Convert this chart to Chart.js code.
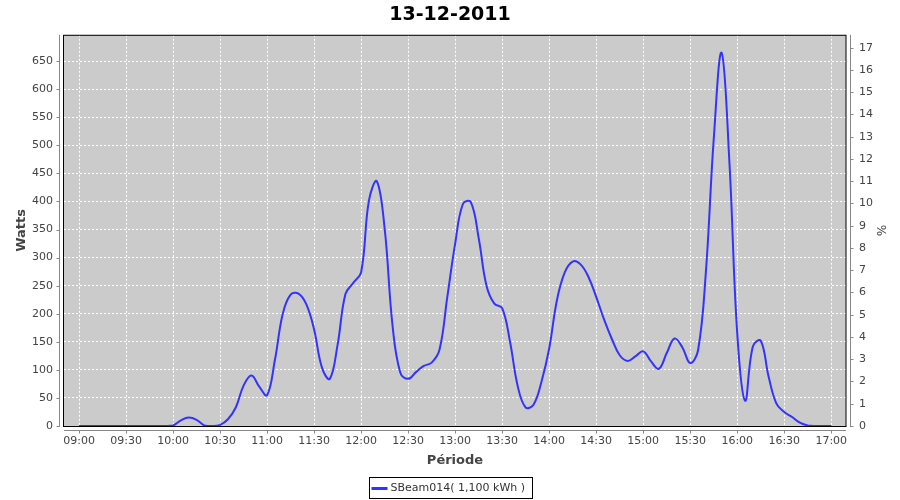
<!DOCTYPE html>
<html>
<head>
<meta charset="utf-8">
<script src="https://cdn.jsdelivr.net/npm/chart.js@4.4.0/dist/chart.umd.min.js"></script>
<style>
  html, body { margin: 0; padding: 0; background: #fff; }
</style>
</head>
<body>
<canvas id="chart" width="900" height="500"></canvas>
<script>
// sample times (5 min steps) and measured power in watts
const times = [
  '09:00','09:05','09:10','09:15','09:20','09:25','09:30','09:35','09:40','09:45','09:50','09:55',
  '10:00','10:05','10:10','10:15','10:20','10:25','10:30','10:35','10:40','10:45','10:50','10:55',
  '11:00','11:05','11:10','11:15','11:20','11:25','11:30','11:35','11:40','11:45','11:50','11:55',
  '12:00','12:05','12:10','12:15','12:20','12:25','12:30','12:35','12:40','12:45','12:50','12:55',
  '13:00','13:05','13:10','13:15','13:20','13:25','13:30','13:35','13:40','13:45','13:50','13:55',
  '14:00','14:05','14:10','14:15','14:20','14:25','14:30','14:35','14:40','14:45','14:50','14:55',
  '15:00','15:05','15:10','15:15','15:20','15:25','15:30','15:35','15:40','15:45','15:50','15:55',
  '16:00','16:05','16:10','16:15','16:20','16:25','16:30','16:35','16:40','16:45','16:50','16:55',
  '17:00'
];
const watts = [
  0, 0, 0, 0, 0, 0, 0, 0, 0, 0, 0, 0,
  1, 10, 15, 11, 1, 0, 2, 12, 33, 72, 90, 70,
  55, 118, 200, 234, 236, 217, 172, 104, 84, 145, 235, 255,
  274, 402, 436, 352, 180, 95, 84, 96, 107, 113, 136, 230,
  325, 396, 399, 335, 250, 218, 210, 150, 70, 33, 38, 78,
  138, 225, 274, 293, 288, 266, 230, 190, 155, 126, 116, 124,
  133, 115, 102, 130, 156, 140, 112, 135, 275, 511, 665, 470,
  165, 45, 142, 152, 88, 40, 25, 16, 6, 1, 0, 0,
  0
];
const xTicks = ['09:00','09:30','10:00','10:30','11:00','11:30','12:00','12:30',
  '13:00','13:30','14:00','14:30','15:00','15:30','16:00','16:30','17:00'];

const seriesLabel = 'SBeam014( 1,100 kWh )';
const lineColor = '#3333ff';

// minutes after 09:00
function toMin(t) {
    const [h, m] = t.split(':').map(Number);
    return (h - 9) * 60 + m;
}

const points = times.map((t, i) => ({ x: toMin(t), y: watts[i] }));

Chart.defaults.font.family = "'DejaVu Sans', sans-serif";
Chart.defaults.font.size = 11;
Chart.defaults.color = '#444';

// gray plot, black frame, offset axis lines and the boxed legend
const plotFrame = {
    id: 'plotFrame',
    beforeDraw(chart) {
        const { ctx, chartArea: a } = chart;
        ctx.save();
        ctx.fillStyle = '#cbcbcb';
        ctx.fillRect(a.left, a.top, a.right - a.left, a.bottom - a.top);
        ctx.restore();
    },
    afterDatasetsDraw(chart) {
        const { ctx, chartArea: a } = chart;
        ctx.save();
        ctx.strokeStyle = '#000';
        ctx.lineWidth = 1;
        ctx.strokeRect(a.left - 0.5, a.top + 0.5, a.right - a.left + 0.5, a.bottom - a.top);
        ctx.restore();
    },
    afterDraw(chart) {
        const { ctx, chartArea: a, scales } = chart;
        ctx.save();
        ctx.strokeStyle = '#888';
        ctx.lineWidth = 1;
        ctx.beginPath();
        // left axis
        const lx = Math.round(a.left) - 4.5;
        ctx.moveTo(lx, a.top); ctx.lineTo(lx, a.bottom + 1);
        scales.y.ticks.forEach(t => {
            const py = Math.round(scales.y.getPixelForValue(t.value)) + 0.5;
            ctx.moveTo(lx - 3, py); ctx.lineTo(lx, py);
        });
        // right axis
        const rx = Math.round(a.right) + 4.5;
        ctx.moveTo(rx, a.top); ctx.lineTo(rx, a.bottom + 1);
        scales.y2.ticks.forEach(t => {
            const py = Math.round(scales.y2.getPixelForValue(t.value)) + 0.5;
            ctx.moveTo(rx, py); ctx.lineTo(rx + 3, py);
        });
        // bottom axis
        const by = Math.round(a.bottom) + 4.5;
        ctx.moveTo(a.left, by); ctx.lineTo(a.right, by);
        scales.x.ticks.forEach(t => {
            const px = Math.round(scales.x.getPixelForValue(t.value)) + 0.5;
            ctx.moveTo(px, by); ctx.lineTo(px, by + 3);
        });
        ctx.stroke();

        // legend
        const ds = chart.data.datasets[0];
        ctx.font = "11px 'DejaVu Sans', sans-serif";
        const tw = ctx.measureText(ds.label).width;
        const w = Math.round(tw + 28);
        const x0 = Math.round(chart.width / 2 - w / 2) + 0.5;
        const y0 = 477.5, h = 21;
        ctx.fillStyle = '#fff';
        ctx.fillRect(x0, y0, w, h);
        ctx.strokeStyle = '#000';
        ctx.strokeRect(x0, y0, w, h);
        ctx.strokeStyle = ds.borderColor;
        ctx.lineWidth = 3;
        ctx.beginPath();
        ctx.moveTo(x0 + 2, y0 + 11); ctx.lineTo(x0 + 18, y0 + 11);
        ctx.stroke();
        ctx.fillStyle = '#333';
        ctx.textBaseline = 'middle';
        ctx.fillText(ds.label, x0 + 21, y0 + 11);
        ctx.restore();
    }
};

new Chart(document.getElementById('chart'), {
    type: 'line',
    data: {
        datasets: [{
            label: seriesLabel,
            data: points,
            borderColor: lineColor,
            borderWidth: 2,
            pointRadius: 0,
            tension: 0.4,
            fill: false,
            yAxisID: 'y'
        }]
    },
    options: {
        responsive: false,
        animation: false,
        layout: { padding: { left: 0, right: 0, top: 0, bottom: 26 } },
        plugins: {
            legend: { display: false },
            tooltip: { enabled: false },
            title: {
                display: true,
                text: '13-12-2011',
                color: '#000',
                font: { size: 19, weight: 'bold' },
                padding: { top: 4, bottom: 8 }
            }
        },
        scales: {
            x: {
                type: 'linear',
                min: -9.6,
                max: 489.4,
                afterBuildTicks: s => { s.ticks = xTicks.map(t => ({ value: toMin(t) })); },
                afterFit: s => { s.height = 48; },
                ticks: {
                    autoSkip: false,
                    maxRotation: 0,
                    padding: 9,
                    callback: (v, i) => xTicks[i]
                },
                grid: { color: '#fff', lineWidth: 1, drawTicks: false },
                border: { display: false, dash: [2, 2] },
                title: {
                    display: true,
                    text: 'Période',
                    color: '#444',
                    font: { size: 13, weight: 'bold' },
                    padding: { top: 0, bottom: 6 }
                }
            },
            y: {
                position: 'left',
                min: 0,
                max: 697,
                afterFit: s => { s.width = 64; },
                ticks: { stepSize: 50, includeBounds: false, padding: 11 },
                grid: { color: '#fff', lineWidth: 1, drawTicks: false },
                border: { display: false, dash: [2, 2] },
                title: {
                    display: true,
                    text: 'Watts',
                    color: '#444',
                    font: { size: 13, weight: 'bold' },
                    padding: { top: 14, bottom: 0 }
                }
            },
            y2: {
                position: 'right',
                min: 0,
                max: 17.58,
                afterFit: s => { s.width = 54; },
                ticks: { stepSize: 1, includeBounds: false, padding: 13 },
                grid: { display: false, drawTicks: false },
                border: { display: false },
                title: {
                    display: true,
                    text: '%',
                    color: '#444',
                    font: { size: 12 },
                    padding: { top: 13, bottom: 0 }
                }
            }
        }
    },
    plugins: [plotFrame]
});
</script>
</body>
</html>
